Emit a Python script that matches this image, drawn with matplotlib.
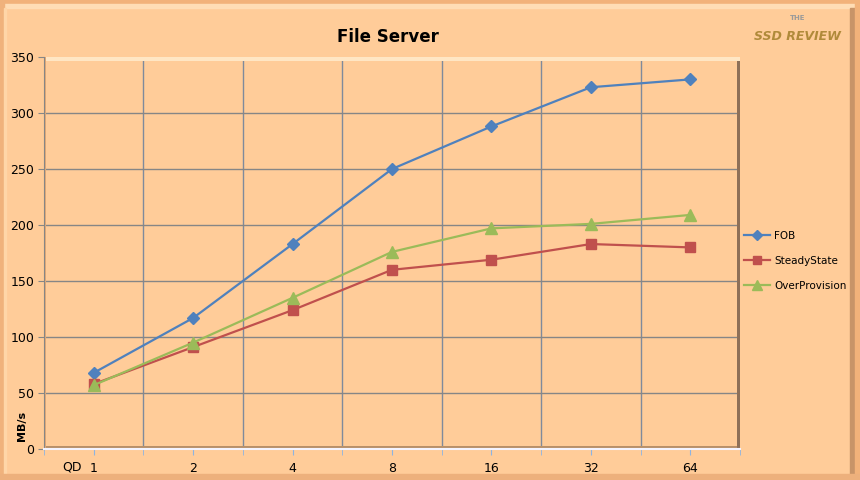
import numpy as np
import matplotlib
matplotlib.use('Agg')
import matplotlib.pyplot as plt
from matplotlib.patches import Rectangle

# queue depths and throughput (MB/s)
qd = ['1', '2', '4', '8', '16', '32', '64']
fob = [68, 117, 183, 250, 288, 323, 330]
steady = [58, 91, 124, 160, 169, 183, 180]
overprov = [57, 95, 135, 176, 197, 201, 209]

bg = '#FFCC99'
fig = plt.figure(figsize=(8.6, 4.8), dpi=100, facecolor=bg)

# outer bevelled frame (thin stripes along the edges)
def strip(x0, y0, w, h, c):
    fig.patches.append(Rectangle((x0 / 860, 1 - (y0 + h) / 480), w / 860, h / 480,
                                 transform=fig.transFigure, color=c, zorder=-1))

strip(0, 0, 860, 3, '#F2B27A')
strip(4, 4, 852, 4, '#FFDDB5')
strip(0, 0, 4, 480, '#F0B27C')
strip(4, 8, 2, 472, '#FFD6A8')
strip(850, 8, 5, 472, '#C89468')
strip(855, 0, 5, 480, '#F2B27A')
strip(0, 474, 860, 6, '#EDB07C')

ax = fig.add_axes([44 / 860, 31 / 480, 696 / 860, 392 / 480])
ax.set_facecolor(bg)
x = np.arange(len(qd))

ax.plot(x, fob, color='#4F81BD', marker='D', markersize=6, linewidth=1.6, label='FOB', zorder=5)
ax.plot(x, steady, color='#C0504D', marker='s', markersize=7, linewidth=1.6, label='SteadyState', zorder=5)
ax.plot(x, overprov, color='#9BBB59', marker='^', markersize=8, linewidth=1.6, label='OverProvision', zorder=5)

ax.set_xlim(-0.5, len(qd) - 0.5)
ax.set_ylim(0, 350)
ax.set_yticks(np.arange(0, 351, 50))
ax.set_xticks(x)
ax.set_xticklabels(qd)
ax.set_xticks(np.arange(-0.5, len(qd), 1.0), minor=True)

# gridlines: horizontal at values, vertical at category boundaries
ax.grid(axis='y', which='major', color='#868686', linewidth=1.0, zorder=1)
ax.grid(axis='x', which='minor', color='#7F8A9C', linewidth=1.0, zorder=1)
ax.grid(axis='x', which='major', visible=False)

for side in ['top', 'right']:
    ax.spines[side].set_visible(False)
ax.spines['left'].set_color('#868686')
ax.spines['bottom'].set_color('#F4F4FF')
ax.spines['bottom'].set_linewidth(1.5)

ax.tick_params(axis='y', length=4, color='#868686', labelsize=9, pad=3)
ax.tick_params(axis='x', which='both', length=4, color='#8DB4E2', labelsize=9, pad=5)

# bevel of the plot area
ax.add_patch(Rectangle((-0.5, 0), 7, 2.5, color='#B8906A', zorder=2, linewidth=0))
ax.add_patch(Rectangle((6.47, 0), 0.03, 350, color='#8E7058', zorder=2, linewidth=0))
ax.add_patch(Rectangle((-0.5, 346), 7, 4, color='#FFE6C4', zorder=2, linewidth=0))
ax.add_patch(Rectangle((-0.5, 0), 0.02, 350, color='#E0A878', zorder=2, linewidth=0))

fig.text(388 / 860, 1 - 37 / 480, 'File Server', ha='center', va='center',
         fontsize=12, fontweight='bold')
fig.text(22 / 860, 1 - 426 / 480, 'MB/s', rotation=90, ha='center', va='center',
         fontsize=8, fontweight='bold')
fig.text(72 / 860, 1 - 467 / 480, 'QD', ha='center', va='center', fontsize=9)

# site logo
fig.text(798 / 860, 1 - 18 / 480, 'THE', ha='center', va='center', fontsize=5,
         color='#9A9A9A', fontweight='bold')
fig.text(797 / 860, 1 - 36 / 480, 'SSD REVIEW', ha='center', va='center', fontsize=9,
         color='#B08A3A', fontweight='bold', fontstyle='italic')

ax.legend(loc='center left', bbox_to_anchor=(1.0, 0.48), frameon=False,
          fontsize=7.5, handlelength=2.5, handletextpad=0.4, labelspacing=1.45,
          borderpad=0.2, borderaxespad=0.2, markerscale=0.85)

fig.savefig('out.png', dpi=100, facecolor=bg)
